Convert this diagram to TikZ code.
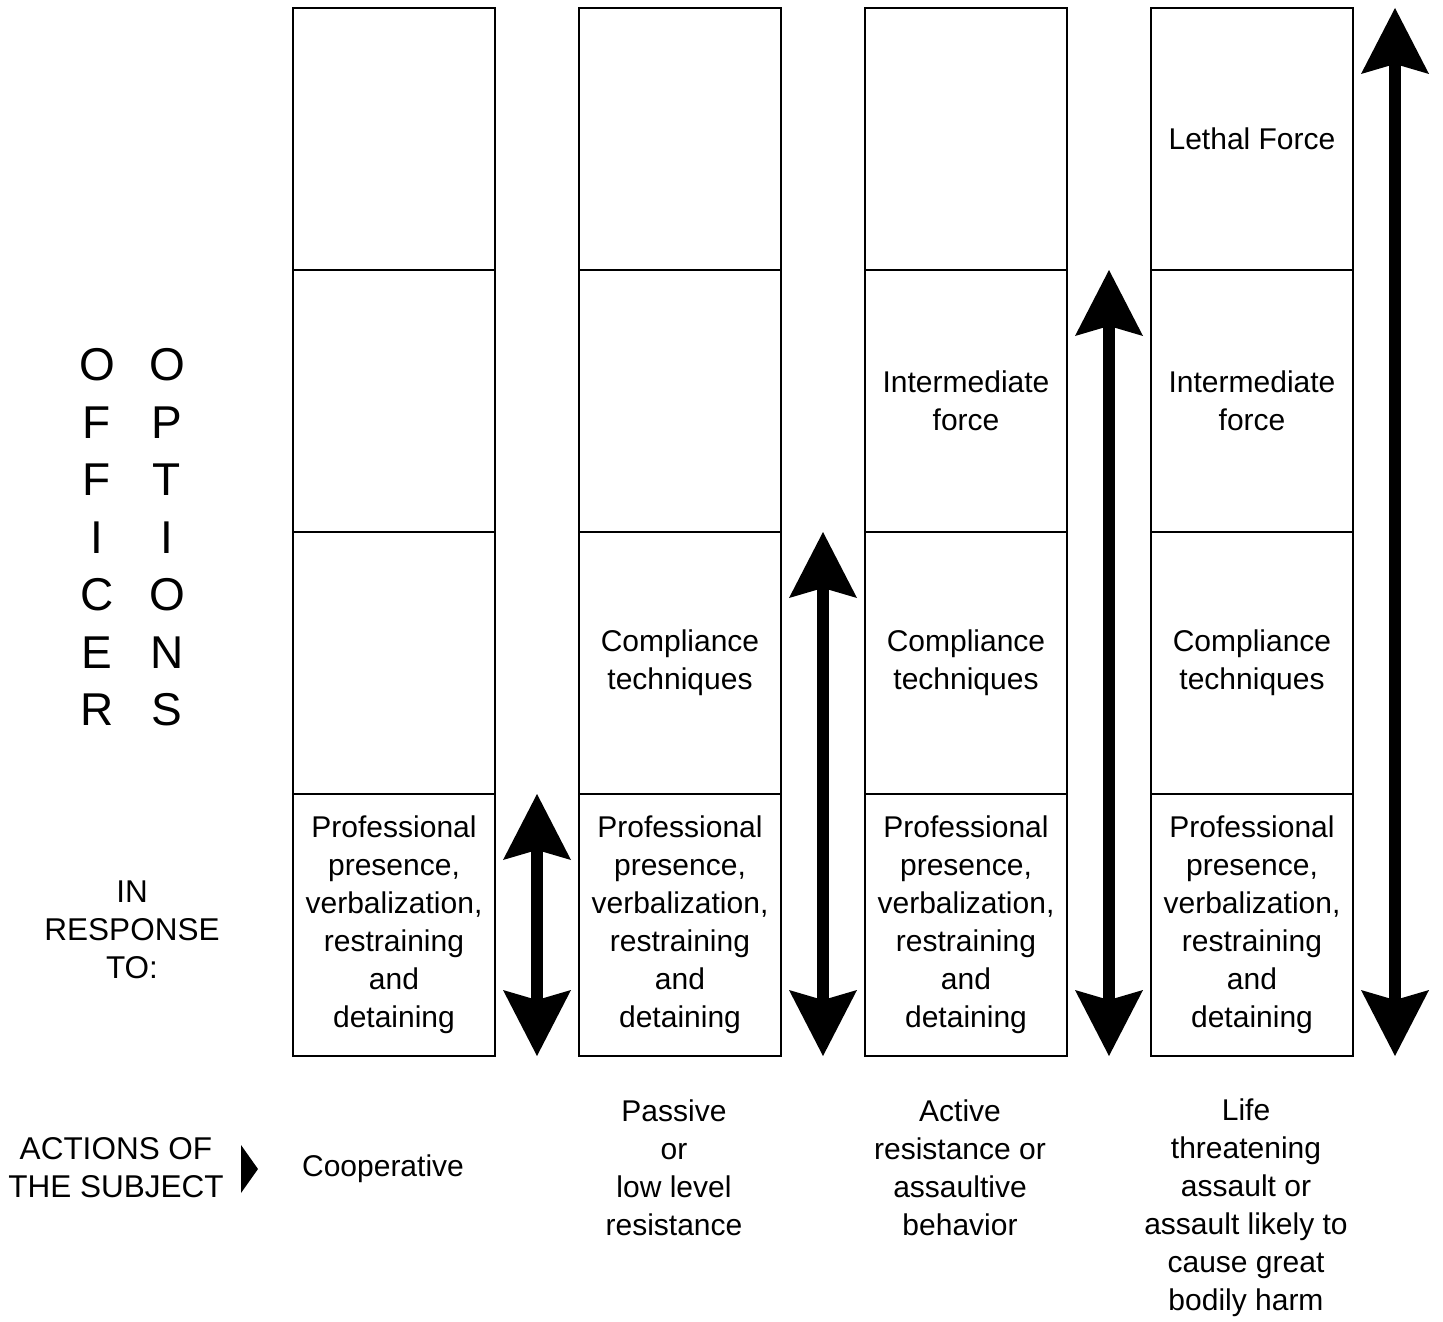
\documentclass[tikz,border=0pt]{standalone}
\usepackage{fontspec}
\setmainfont{Liberation Sans}
\usetikzlibrary{arrows.meta,positioning}

\begin{document}
\begin{tikzpicture}[
  x=1pt, y=-1pt,
  node distance=0pt and 84pt,
  every node/.style={font=\fontsize{30}{38}\selectfont, align=center},
  cell/.style={draw, line width=1.6pt, outer sep=0pt, inner sep=0pt,
               minimum width=202pt, minimum height=262pt},
  side/.style={font=\fontsize{31.5}{38}\selectfont},
  letter/.style={font=\fontsize{46}{46}\selectfont},
  tip/.tip={Stealth[length=66pt, width=68pt, inset=10pt, line width=0pt]},
  dbl/.style={tip-tip, line width=12pt}
]
\useasboundingbox (0,0) rectangle (1443,1322);

% column a: cooperative
\node[cell] (a4) at (394,139) {};
\node[cell, below=of a4] (a3) {};
\node[cell, below=of a3] (a2) {};
\node[cell, below=of a2] (a1) {Professional\\presence,\\verbalization,\\restraining\\and\\detaining};

% column b: passive
\node[cell, right=of a4] (b4) {};
\node[cell, below=of b4] (b3) {};
\node[cell, below=of b3] (b2) {Compliance\\techniques};
\node[cell, below=of b2] (b1) {Professional\\presence,\\verbalization,\\restraining\\and\\detaining};

% column c: active
\node[cell, right=of b4] (c4) {};
\node[cell, below=of c4] (c3) {Intermediate\\force};
\node[cell, below=of c3] (c2) {Compliance\\techniques};
\node[cell, below=of c2] (c1) {Professional\\presence,\\verbalization,\\restraining\\and\\detaining};

% column d: life threatening
\node[cell, right=of c4] (d4) {Lethal Force};
\node[cell, below=of d4] (d3) {Intermediate\\force};
\node[cell, below=of d3] (d2) {Compliance\\techniques};
\node[cell, below=of d2] (d1) {Professional\\presence,\\verbalization,\\restraining\\and\\detaining};

% range arrows
\coordinate[right=42pt of a1.north east] (aup);
\coordinate[right=42pt of a1.south east] (adn);
\coordinate[right=42pt of b2.north east] (bup);
\coordinate[right=42pt of b1.south east] (bdn);
\coordinate[right=42pt of c3.north east] (cup);
\coordinate[right=42pt of c1.south east] (cdn);
\coordinate[right=42pt of d4.north east] (dup);
\coordinate[right=42pt of d1.south east] (ddn);
\draw[dbl] (adn) -- (aup);
\draw[dbl] (bdn) -- (bup);
\draw[dbl] (cdn) -- (cup);
\draw[dbl] (ddn) -- (dup);

% side labels
\foreach \l [count=\i] in {O,F,F,I,C,E,R}
  \node[letter] (off\i) at (97,{365+57.5*(\i-1)}) {\l};
\foreach \l [count=\i] in {O,P,T,I,O,N,S}
  \node[letter] (opt\i) at (167,{365+57.5*(\i-1)}) {\l};
\node[side] (resp) at (132,930) {IN\\RESPONSE\\TO:};
\node[side] (actions) at (116,1168) {ACTIONS OF\\THE SUBJECT};
\fill (241,1145) -- (258,1169) -- (241,1193) -- cycle;

% subject actions
\node (coop) at (383,1169) {Cooperative};
\node (pass) at (674,1168) {Passive\\or\\low level\\resistance};
\node (act) at (960,1168) {Active\\resistance or\\assaultive\\behavior};
\node (life) at (1246,1208) {Life\\threatening\\assault or\\assault likely to\\cause great\\bodily harm};
\end{tikzpicture}
\end{document}
